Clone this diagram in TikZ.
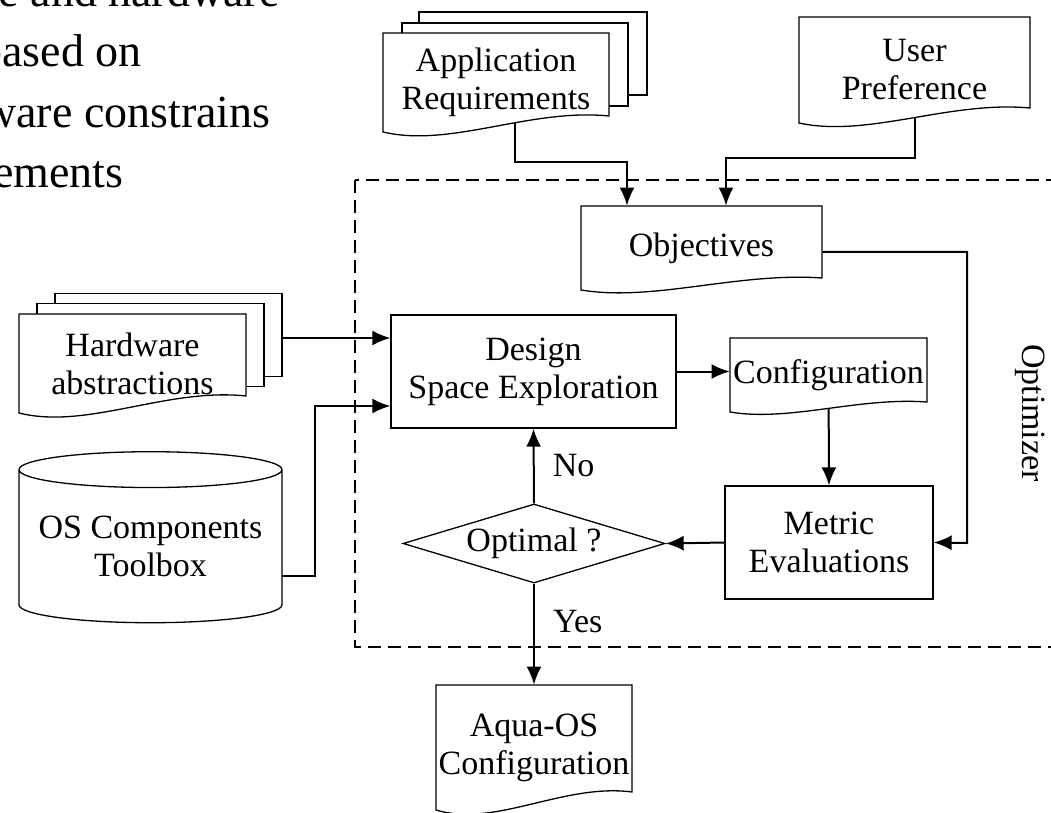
\documentclass[tikz,border=0pt]{standalone}
\usepackage{fontspec}
\setmainfont{Liberation Serif}
\usetikzlibrary{arrows.meta,positioning,calc,shapes.geometric,backgrounds}

% feuillet : nom, x gauche, x droite, haut, coin droit, coin gauche, texte
\newcommand{\Feuillet}[7]{%
\draw[bord] (#2,#4) -- (#3,#4) -- (#3,#5)
  .. controls ({#2+0.65*(#3-#2)},{#5-0.5*(#6-#5)}) and ({#2+0.3*(#3-#2)},{#6+(#6-#5)}) .. (#2,#6) -- cycle;
\node[texte,minimum width={(#3-#2)*0.5pt},minimum height={(#6-#4)*0.5pt}] (#1) at ({(#2+#3)/2},{(#4+#6)/2}) {#7};
}

\begin{document}
\begin{tikzpicture}[x=0.5pt,y=-0.5pt]
\tikzstyle{fleche}=[-{Latex[length=9pt,width=7.5pt]},line width=1pt]
\tikzstyle{bord}=[draw,fill=white,line width=0.65pt]
\tikzstyle{texte}=[align=center,inner sep=0pt,font=\fontsize{17}{19}\selectfont]
\tikzstyle{boite}=[bord,texte,rectangle]
\tikzstyle{pile}=[bord,rectangle,minimum height=41.5pt]
\tikzstyle{losange}=[bord,texte,diamond,aspect=3.3,minimum width=131pt,minimum height=39.5pt]
\tikzstyle{cylindre}=[bord,texte,cylinder,shape border rotate=90,aspect=0.16,minimum width=131.5pt,minimum height=85.5pt]
\tikzstyle{cadre}=[dash pattern=on 6.5pt off 3.5pt,line width=1pt]
\tikzstyle{fond}=[inner sep=0pt,anchor=base east,font=\fontsize{23}{30}\selectfont]
\tikzstyle{etiquette}=[inner sep=0pt,font=\fontsize{17}{19}\selectfont]
\path[use as bounding box] (0,0) rectangle (1051,813);
\clip (0,0) rectangle (1051,813);

% texte de la diapositive
\node[fond] (ligneA) at (280,7) {e and hardware};
\node[fond] (ligneB) at (142,67) {based on};
\node[fond] (ligneC) at (271,128) {ware constrains};
\node[fond] (ligneD) at (124,188) {ements};

% entrees
\node[pile,minimum width=114pt] (AppC) at (533,53.5) {};
\node[pile,minimum width=113pt] (AppB) at (515,64.5) {};
\Feuillet{App}{383}{609}{33}{116}{132}{Application\\Requirements}
\Feuillet{User}{799}{1030}{17}{108}{123}{User\\Preference}
\node[pile,minimum width=113.5pt] (HWC) at (168.5,335) {};
\node[pile,minimum width=113.5pt] (HWB) at (150.5,345) {};
\Feuillet{HW}{19}{246}{314}{396}{413}{Hardware\\abstractions}
\node[cylindre] (OS) at (150.5,546.5) {OS Components\\Toolbox};

% optimiseur
\Feuillet{Obj}{581}{822}{206}{278}{290}{Objectives}
\node[boite,minimum width=142.5pt,minimum height=56.5pt] (DSE) at (533.5,371.5) {Design\\Space Exploration};
\Feuillet{Conf}{730}{927}{338}{402}{412}{Configuration}
\node[boite,minimum width=104pt,minimum height=56.5pt] (Met) at (829,542.5) {Metric\\Evaluations};
\node[losange] (Opt) at (534,543.5) {Optimal ?};
\node[texte,rotate=-90] (Optim) at (1030,413) {Optimizer};

% sortie
\Feuillet{Aqua}{436}{632}{685}{792}{810}{Aqua-OS\\Configuration}

\coordinate (cA) at (627,162);
\coordinate (cU) at (726,158);
\coordinate (cO) at (967,543);
\coordinate (cT) at (315,406);

\begin{scope}[on background layer]
\draw[cadre] (355,180) rectangle (1080,647);
\draw[fleche] ([xshift=9.5pt]App.center) |- (cA) -- (Obj.north -| cA);
\draw[fleche] (User.center) |- (cU) -- (Obj.north -| cU);
\draw[fleche] ([yshift=-2pt]Obj.east) -| (cO) -- (Met.east);
\draw[fleche] ([yshift=-1.5pt]HWC.east) -- ([yshift=-1.5pt]HWC.east -| DSE.west);
\draw[fleche] ([yshift=-14.5pt]OS.center) -| (cT) -- (cT -| DSE.west);
\draw[fleche] (DSE.east) -- (DSE.east -| Conf.west);
\draw[fleche] (Conf.center) -- (Met.north);
\draw[fleche] (Met.west) -- (Opt.east);
\draw[fleche] (Opt.north) -- node[etiquette,right=9pt] (No) {No} (DSE.south);
\draw[fleche] (Opt.south) -- node[etiquette,pos=0.38,right=9pt] (Yes) {Yes} (Aqua.north);
\end{scope}
\end{tikzpicture}
\end{document}
